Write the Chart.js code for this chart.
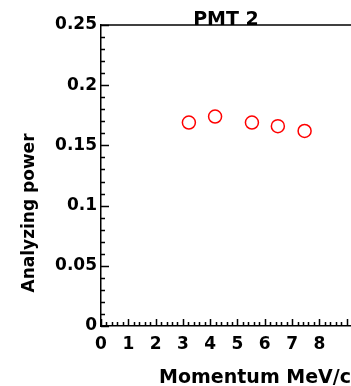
<!DOCTYPE html>
<html>
<head>
<meta charset="utf-8">
<script src="https://cdn.jsdelivr.net/npm/chart.js@4"></script>
<style>
  html, body { margin: 0; padding: 0; background: #fff; }
  #wrap { width: 351px; height: 386px; }
</style>
</head>
<body>
<div id="wrap"><canvas id="chart" width="351" height="386"></canvas></div>
<script>
// data
const momentum = [3.22, 4.18, 5.53, 6.48, 7.46];
const analyzingPower = [0.169, 0.174, 0.169, 0.166, 0.162];

const xTickValues = [0, 1, 2, 3, 4, 5, 6, 7, 8];
const xTickLabels = ['0', '1', '2', '3', '4', '5', '6', '7', '8'];
const yTickValues = [0, 0.05, 0.1, 0.15, 0.2, 0.25];
const yTickLabels = ['0', '0.05', '0.1', '0.15', '0.2', '0.25'];

const FONT = '"DejaVu Sans", sans-serif';

// inward ticks, top frame line and titles
const frameAndTicks = {
  id: 'frameAndTicks',
  afterDraw(chart) {
    const ctx = chart.ctx;
    const area = chart.chartArea;
    const xs = chart.scales.x;
    const ys = chart.scales.y;
    ctx.save();
    ctx.strokeStyle = '#000';
    ctx.lineWidth = 1.5;

    // top line
    ctx.beginPath();
    ctx.moveTo(area.left, area.top);
    ctx.lineTo(area.right, area.top);
    ctx.stroke();

    ctx.beginPath();
    // y ticks every 0.01, major every 0.05
    for (let i = 0; i <= 25; i++) {
      const v = i / 100;
      const py = Math.round(ys.getPixelForValue(v)) + 0.5;
      const len = i % 5 === 0 ? 8 : 4;
      ctx.moveTo(area.left, py);
      ctx.lineTo(area.left + len, py);
    }
    // x ticks every 0.2, major every 1
    for (let i = 0; i <= 46; i++) {
      const v = i / 5;
      if (v > xs.max) break;
      const px = Math.round(xs.getPixelForValue(v)) + 0.5;
      const len = i % 5 === 0 ? 7 : 4;
      ctx.moveTo(px, area.bottom);
      ctx.lineTo(px, area.bottom - len);
    }
    ctx.stroke();

    ctx.fillStyle = '#000';
    // title
    ctx.font = 'bold 19px ' + FONT;
    ctx.textAlign = 'center';
    ctx.textBaseline = 'alphabetic';
    ctx.fillText('PMT 2', (area.left + area.right) / 2, area.top);

    // x title
    ctx.font = 'bold 19px ' + FONT;
    ctx.textAlign = 'right';
    ctx.fillText('Momentum MeV/c', area.right, 383);

    // y title
    ctx.font = 'bold 17px ' + FONT;
    ctx.translate(30, area.bottom - 113);
    ctx.rotate(-Math.PI / 2);
    ctx.textAlign = 'center';
    ctx.textBaseline = 'middle';
    ctx.fillText('Analyzing power', 0, 0);
    ctx.restore();
  }
};

new Chart(document.getElementById('chart'), {
  type: 'scatter',
  data: {
    datasets: [{
      data: momentum.map((m, i) => ({ x: m, y: analyzingPower[i] })),
      pointStyle: 'circle',
      pointRadius: 6.5,
      pointHoverRadius: 6.5,
      borderColor: '#ff0000',
      backgroundColor: 'rgba(0,0,0,0)',
      borderWidth: 1.5
    }]
  },
  options: {
    responsive: false,
    animation: false,
    layout: { autoPadding: false, padding: { top: 25, right: 0, left: 0, bottom: 0 } },
    plugins: {
      legend: { display: false },
      tooltip: { enabled: false }
    },
    scales: {
      x: {
        type: 'linear',
        min: 0,
        max: 9.16,
        afterBuildTicks: s => { s.ticks = xTickValues.map(v => ({ value: v })); },
        afterFit: s => { s.height = 60; },
        grid: { display: false, drawTicks: false },
        border: { display: true, color: '#000', width: 1.5 },
        ticks: {
          padding: 8,
          color: '#000',
          maxRotation: 0,
          font: { family: FONT, size: 17, weight: 'bold' },
          callback: v => xTickLabels[xTickValues.indexOf(v)]
        }
      },
      y: {
        type: 'linear',
        min: 0,
        max: 0.25,
        afterBuildTicks: s => { s.ticks = yTickValues.map(v => ({ value: v })); },
        afterFit: s => { s.width = 101; },
        grid: { display: false, drawTicks: false },
        border: { display: true, color: '#000', width: 1.5 },
        ticks: {
          padding: 4,
          color: '#000',
          font: { family: FONT, size: 17, weight: 'bold' },
          callback: v => yTickLabels[yTickValues.indexOf(v)]
        }
      }
    }
  },
  plugins: [frameAndTicks]
});
</script>
</body>
</html>
